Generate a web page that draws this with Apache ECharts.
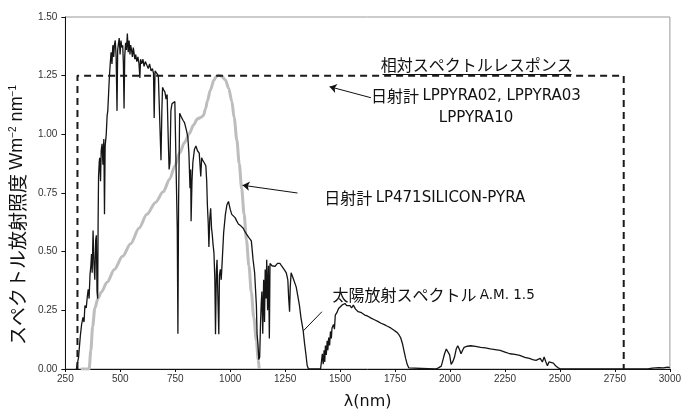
<!DOCTYPE html>
<html><head><meta charset="utf-8">
<script src="https://cdn.jsdelivr.net/npm/echarts@6/dist/echarts.min.js"></script>
<style>html,body{margin:0;padding:0;background:#fff}#c{width:684px;height:415px}</style>
</head><body><div id="c"></div>
<script>
// Solar spectrum A.M. 1.5  [wavelength nm, W m^-2 nm^-1]
const solarSpectrum = [
[300,0],[305,0.0],[310,0.05],[318,0.14],[324,0.19],[330,0.22],[335,0.2],[339,0.27],[345,0.26],[350,0.31],[354,0.34],[358,0.30],[362,0.40],[366,0.44],[369,0.49],[372,0.41],[376,0.59],[380,0.45],[384,0.38],[388,0.55],[391,0.57],[394,0.33],[397,0.30],[399,0.63],[401,0.82],[404,0.88],[406,0.90],[410,0.80],[413,0.93],[417,0.96],[421,0.87],[425,0.98],[428,0.66],[431,0.95],[436,1.00],[440,1.08],[443,1.10],[447,1.18],[450,1.24],[454,1.30],[458,1.35],[462,1.30],[466,1.38],[470,1.33],[473,1.38],[477,1.40],[481,1.33],[485,1.10],[488,1.36],[492,1.39],[495,1.41],[499,1.34],[503,1.40],[507,1.37],[511,1.38],[514,1.30],[517,1.11],[520,1.33],[524,1.39],[528,1.36],[532,1.43],[536,1.35],[540,1.40],[544,1.34],[547,1.38],[551,1.36],[555,1.33],[559,1.37],[562,1.35],[566,1.32],[570,1.34],[575,1.31],[580,1.33],[585,1.30],[589,1.24],[592,1.32],[597,1.30],[603,1.32],[608,1.29],[614,1.31],[621,1.31],[627,1.28],[633,1.30],[640,1.27],[646,1.28],[651,1.26],[654,1.07],[658,1.27],[666,1.27],[673,1.25],[681,1.25],[685,0.89],[689,1.10],[692,1.20],[697,1.19],[703,1.18],[708,1.15],[713,1.17],[718,0.98],[722,0.85],[726,0.88],[730,1.10],[735,1.13],[740,1.13],[748,1.14],[755,1.14],[759,0.6],[762,0.15],[765,0.7],[770,1.09],[777,1.075],[785,1.06],[792,1.05],[800,1.02],[807,0.99],[812,0.92],[817,0.77],[820,0.85],[822,0.63],[826,0.80],[830,0.88],[837,0.935],[844,0.95],[851,0.93],[859,0.92],[866,0.82],[870,0.9],[874,0.89],[881,0.88],[889,0.866],[893,0.80],[896,0.70],[900,0.62],[903,0.52],[907,0.64],[911,0.685],[915,0.60],[918,0.575],[922,0.53],[926,0.494],[930,0.38],[933,0.148],[937,0.42],[940,0.465],[944,0.30],[948,0.148],[951,0.40],[955,0.425],[959,0.38],[963,0.45],[970,0.58],[978,0.659],[985,0.70],[992,0.714],[1000,0.68],[1007,0.659],[1015,0.655],[1022,0.645],[1030,0.63],[1037,0.618],[1048,0.61],[1059,0.60],[1067,0.585],[1074,0.575],[1085,0.56],[1096,0.546],[1104,0.465],[1111,0.41],[1115,0.34],[1119,0.27],[1122,0.15],[1126,0.107],[1130,0.04],[1134,0.05],[1138,0.20],[1141,0.28],[1144,0.33],[1148,0.15],[1152,0.38],[1156,0.20],[1159,0.424],[1163,0.30],[1166,0.466],[1170,0.25],[1174,0.44],[1178,0.13],[1181,0.45],[1190,0.44],[1203,0.437],[1215,0.45],[1226,0.45],[1233,0.44],[1240,0.437],[1248,0.42],[1255,0.41],[1262,0.38],[1266,0.30],[1270,0.244],[1273,0.35],[1277,0.41],[1285,0.39],[1292,0.382],[1300,0.35],[1307,0.314],[1315,0.27],[1322,0.217],[1327,0.19],[1332,0.162],[1338,0.11],[1344,0.065],[1350,0.015],[1356,0],[1411,0],[1416,0.04],[1419,0.065],[1423,0.02],[1427,0.08],[1430,0.03],[1433,0.10],[1437,0.06],[1441,0.12],[1444,0.08],[1448,0.134],[1452,0.10],[1456,0.16],[1460,0.13],[1463,0.175],[1470,0.19],[1474,0.17],[1478,0.23],[1485,0.24],[1493,0.258],[1500,0.265],[1508,0.272],[1515,0.275],[1522,0.279],[1530,0.27],[1537,0.265],[1545,0.27],[1552,0.26],[1560,0.272],[1570,0.255],[1582,0.244],[1597,0.24],[1612,0.23],[1626,0.225],[1641,0.217],[1656,0.21],[1671,0.203],[1686,0.195],[1701,0.189],[1715,0.182],[1730,0.175],[1745,0.165],[1760,0.155],[1768,0.145],[1775,0.134],[1783,0.11],[1790,0.079],[1798,0.045],[1805,0.02],[1812,0.005],[1820,0],[1931,0],[1945,0.004],[1960,0.012],[1968,0.04],[1975,0.065],[1983,0.085],[1990,0.092],[1998,0.06],[2005,0.02],[2012,0.03],[2020,0.05],[2028,0.085],[2035,0.099],[2042,0.085],[2050,0.065],[2057,0.08],[2064,0.092],[2079,0.097],[2094,0.099],[2116,0.096],[2139,0.092],[2161,0.09],[2183,0.086],[2205,0.083],[2228,0.079],[2250,0.072],[2272,0.065],[2295,0.062],[2317,0.058],[2340,0.05],[2361,0.045],[2376,0.04],[2391,0.037],[2410,0.045],[2420,0.03],[2428,0.051],[2436,0.03],[2443,0.014],[2450,0.03],[2458,0.037],[2470,0.025],[2480,0.014],[2490,0.006],[2503,0],[2900,0],[2920,0.004],[2950,0.006],[2970,0.005],[2990,0.008],[3000,0.006]
];
// LP471SILICON-PYRA relative response (scaled)
const siliconResponse = [
[320,0],[358,0],[366,0.08],[374,0.18],[384,0.258],[398,0.30],[413,0.327],[440,0.37],[473,0.424],[510,0.48],[547,0.534],[585,0.60],[621,0.659],[660,0.71],[695,0.755],[725,0.81],[748,0.865],[770,0.921],[792,0.965],[814,1.004],[833,1.04],[851,1.066],[866,1.072],[878,1.08],[888,1.11],[896,1.142],[910,1.19],[926,1.232],[938,1.248],[948,1.252],[960,1.248],[978,1.232],[993,1.195],[1007,1.142],[1018,1.07],[1030,0.976],[1041,0.875],[1052,0.769],[1063,0.66],[1074,0.548],[1085,0.44],[1096,0.327],[1107,0.22],[1119,0.12],[1127,0.04],[1132,0]
];
// LPPYRA02/03/10 relative response (flat)
const pyraResponse = [[305,0],[305,1.25],[2790,1.25],[2790,0]];

const xMin = 250, xMax = 3000, xStep = 250;
const yMin = 0, yMax = 1.5, yStep = 0.25;

const JP = '"Noto Sans CJK JP"';
const LAT = '"DejaVu Sans"';
const rich = {
  j: {fontFamily: JP, fontSize: 16, color: '#111'},
  l: {fontFamily: LAT, fontSize: 15, color: '#111'},
  s: {fontFamily: LAT, fontSize: 13.5, color: '#111'}
};
function note(coord, text) {
  return {coord: coord, symbol: 'rect', symbolSize: 1, itemStyle: {color: 'rgba(0,0,0,0)'},
    label: {show: true, position: 'inside', formatter: text, rich: rich, align: 'center', lineHeight: 22}};
}

const chart = echarts.init(document.getElementById('c'));
chart.setOption({
  animation: false,
  backgroundColor: '#fff',
  grid: {left: 56, right: 11, top: 17, bottom: 36, show: true, borderColor: '#999', borderWidth: 1},
  xAxis: {
    type: 'value', min: xMin, max: xMax, interval: xStep,
    name: 'λ(nm)', nameLocation: 'middle', nameGap: 25,
    nameTextStyle: {fontFamily: LAT, fontSize: 16, color: '#111'},
    axisLine: {lineStyle: {color: '#111', width: 1}},
    axisTick: {show: true, length: 3, lineStyle: {color: '#111'}},
    axisLabel: {fontFamily: '"Liberation Sans"', fontSize: 10, color: '#333', margin: 5,
      formatter: v => String(v)},
    splitLine: {show: false}
  },
  yAxis: {
    type: 'value', min: yMin, max: yMax, interval: yStep,
    name: 'スペクトル放射照度 {w|Wm}{p|−2}{w| nm}{p|−1}', nameLocation: 'middle', nameGap: 30,
    nameTextStyle: {fontFamily: JP, fontSize: 19, color: '#111', padding: [0, 44, 0, 0],
      rich: {w: {fontFamily: '"Liberation Sans"', fontSize: 18, color: '#111'},
             p: {fontFamily: '"Liberation Sans"', fontSize: 10, color: '#111', verticalAlign: 'top', padding: [0, 0, 9, 0]}}},
    axisLine: {show: true, lineStyle: {color: '#111', width: 1}},
    axisTick: {show: true, length: 4, lineStyle: {color: '#111'}},
    axisLabel: {fontFamily: '"Liberation Sans"', fontSize: 10, color: '#333', margin: 8,
      formatter: v => v.toFixed(2)},
    splitLine: {show: false}
  },
  series: [
    {type: 'line', data: siliconResponse, showSymbol: false, smooth: 0.3, smoothMonotone: 'x',
      lineStyle: {color: '#bdbdbd', width: 3}, z: 2, silent: true},
    {type: 'line', data: solarSpectrum, showSymbol: false,
      lineStyle: {color: '#151515', width: 1.3}, z: 3, silent: true},
    {type: 'line', data: pyraResponse, showSymbol: false,
      lineStyle: {color: '#1a1a1a', width: 2, type: [7, 5]}, z: 4, silent: true,
      markLine: {silent: true, symbol: ['none', 'arrow'], symbolSize: 7, label: {show: false},
        lineStyle: {color: '#111', width: 1, type: 'solid'},
        data: [
          [{coord: [1640, 1.156]}, {coord: [1452, 1.203]}],
          [{coord: [1306, 0.75]}, {coord: [1056, 0.783]}],
          [{coord: [1417, 0.244], symbol: 'none'}, {coord: [1332, 0.162], symbol: 'none'}],
          [{coord: [1693, 1.256], symbol: 'none'}, {coord: [2553, 1.256], symbol: 'none'}]
        ]},
      markPoint: {silent: true, data: [
        note([2121, 1.295], '{j|相対スペクトルレスポンス}'),
        note([2118, 1.115], '{j|日射計} {l|LPPYRA02, LPPYRA03}\n{l|LPPYRA10}'),
        note([1885, 0.729], '{j|日射計} {l|LP471SILICON-PYRA}'),
        note([1925, 0.315], '{j|太陽放射スペクトル} {s|A.M. 1.5}')
      ]}}
  ]
});
</script>
</body></html>
